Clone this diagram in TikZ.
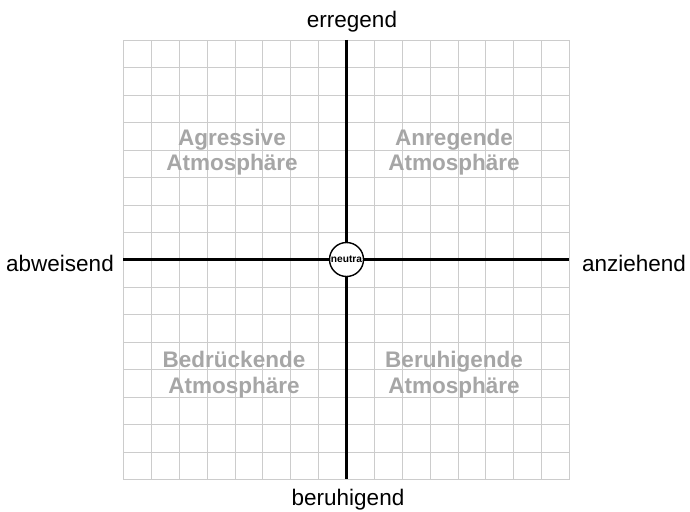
\documentclass[tikz,border=0pt]{standalone}
\usepackage{fontspec}
\setmainfont{Liberation Sans}
\begin{document}
\begin{tikzpicture}[x=1pt,y=-1pt,
  gridline/.style={draw=black!20,line width=1.2pt},
  axisline/.style={draw=black,line width=2.8pt},
  axislabel/.style={font=\fontsize{22.5}{26}\selectfont,text=black,inner sep=0pt,anchor=base},
  quadlabel/.style={font=\fontsize{22.5}{26}\selectfont\bfseries,text=black!35,inner sep=0pt,anchor=base},
  neutral/.style={circle,draw=black,line width=1.4pt,fill=white,minimum size=34pt,inner sep=0pt,font=\fontsize{10.2}{12}\selectfont\bfseries}
]
\useasboundingbox[fill=white] (0,0) rectangle (690,511);
% grid
\foreach \i in {0,...,16}{
  \pgfmathsetmacro\gx{round(123+\i*27.875)+0.5}
  \pgfmathsetmacro\gy{round(40+\i*27.44)+0.5}
  \draw[gridline] (\gx,40.5) -- (\gx,479.5);
  \draw[gridline] (123.5,\gy) -- (569.5,\gy);
}
% quadrant labels
\node[quadlabel] (ag1) at (232,145) {Agressive};
\node[quadlabel] (ag2) at (232,170.5) {Atmosphäre};
\node[quadlabel] (an1) at (454,145) {Anregende};
\node[quadlabel] (an2) at (454,170.5) {Atmosphäre};
\node[quadlabel] (be1) at (234,367) {Bedrückende};
\node[quadlabel] (be2) at (234,393) {Atmosphäre};
\node[quadlabel] (br1) at (454,367) {Beruhigende};
\node[quadlabel] (br2) at (454,393) {Atmosphäre};
% axes
\coordinate (top) at (346.5,40);
\coordinate (bottom) at (346.5,479);
\coordinate (left) at (123,259.5);
\coordinate (right) at (569,259.5);
\draw[axisline] (top) -- (bottom);
\draw[axisline] (left) -- (right);
\node[neutral] (n) at (346.5,259.5) {neutra};
% axis labels
\node[axislabel] (erregend) at (352,28) {erregend};
\node[axislabel] (beruhigend) at (348,505) {beruhigend};
\node[axislabel] (abweisend) at (60,271.5) {abweisend};
\node[axislabel] (anziehend) at (634,271.5) {anziehend};
\end{tikzpicture}
\end{document}
